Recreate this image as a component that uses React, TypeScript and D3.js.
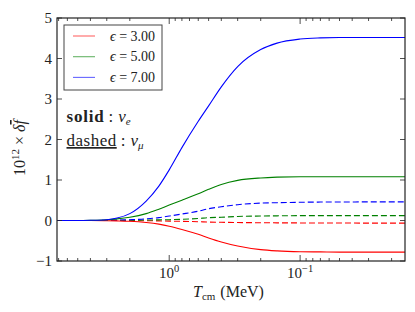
import React from "react";
import * as d3 from "d3";

// temperatures (MeV), read along the x axis from left (hot) to right (cold)
const temps = [7.2, 5, 4, 3, 2.5, 2, 1.5, 1.2, 1, 0.8, 0.6, 0.5, 0.4, 0.3, 0.2, 0.15, 0.1, 0.07, 0.05, 0.03, 0.0158];

// nu_e (solid)
const nueEps3 = [0, 0, 0, -0.005, -0.01, -0.02, -0.05, -0.09, -0.14, -0.22, -0.34, -0.43, -0.53, -0.63, -0.72, -0.75, -0.77, -0.775, -0.78, -0.78, -0.78];
const nueEps5 = [0, 0, 0.005, 0.02, 0.04, 0.08, 0.17, 0.28, 0.38, 0.5, 0.66, 0.77, 0.89, 0.99, 1.05, 1.07, 1.08, 1.08, 1.08, 1.08, 1.08];
const nueEps7 = [0, 0, 0.005, 0.02, 0.06, 0.17, 0.48, 0.85, 1.25, 1.8, 2.45, 2.83, 3.3, 3.8, 4.22, 4.38, 4.48, 4.51, 4.52, 4.52, 4.52];

// nu_mu (dashed)
const numuEps3 = [0, 0, 0, 0, 0, -0.003, -0.006, -0.01, -0.015, -0.02, -0.03, -0.04, -0.045, -0.05, -0.055, -0.058, -0.06, -0.062, -0.063, -0.064, -0.065];
const numuEps5 = [0, 0, 0, 0, 0.005, 0.008, 0.012, 0.016, 0.02, 0.03, 0.05, 0.07, 0.08, 0.1, 0.11, 0.115, 0.12, 0.12, 0.12, 0.12, 0.12];
const numuEps7 = [0, 0, 0, 0.005, 0.01, 0.02, 0.04, 0.07, 0.11, 0.16, 0.23, 0.29, 0.34, 0.39, 0.43, 0.44, 0.45, 0.455, 0.455, 0.46, 0.46];

const epsLabels = ["3.00", "5.00", "7.00"];
const colors = ["#ff0000", "#008000", "#0000ff"];
const yTicks = [-1, 0, 1, 2, 3, 4, 5];

const W = 415;
const H = 312;
const m = { left: 57, right: 405, top: 18, bottom: 261 };
const serif = "'Liberation Serif', 'DejaVu Serif', serif";

const App = () => {
  const x = d3.scaleLog().domain([7.2, 0.0158]).range([m.left, m.right]);
  const y = d3.scaleLinear().domain([-1, 5]).range([m.bottom, m.top]);

  const line = d3
    .line<number>()
    .x((_, i) => x(temps[i]))
    .y((d) => y(d))
    .curve(d3.curveMonotoneX);

  const solid = [nueEps3, nueEps5, nueEps7];
  const dashed = [numuEps3, numuEps5, numuEps7];

  const xTicks = x.ticks();
  const isMajor = (t: number) => Math.abs(Math.log10(t) - Math.round(Math.log10(t))) < 1e-6;

  return (
    <svg width={W} height={H} style={{ position: "absolute", left: 0, top: 0, background: "#fff" }} fontFamily={serif}>
      <defs>
        <clipPath id="plot">
          <rect x={m.left} y={m.top} width={m.right - m.left} height={m.bottom - m.top} />
        </clipPath>
      </defs>

      <g clipPath="url(#plot)" fill="none" strokeWidth={1.1}>
        {dashed.map((s, i) => (
          <path key={"d" + i} d={line(s) || ""} stroke={colors[i]} strokeDasharray="6,3" />
        ))}
        {solid.map((s, i) => (
          <path key={"s" + i} d={line(s) || ""} stroke={colors[i]} />
        ))}
      </g>

      {/* frame */}
      <rect x={m.left} y={m.top} width={m.right - m.left} height={m.bottom - m.top} fill="none" stroke="#222" strokeWidth={1.2} />

      {/* x ticks (in, both sides) */}
      {xTicks.map((t, i) => {
        const len = isMajor(t) ? 6 : 3;
        const px = x(t);
        return (
          <g key={"xt" + i} stroke="#222" strokeWidth={0.8}>
            <line x1={px} x2={px} y1={m.bottom} y2={m.bottom - len} />
            <line x1={px} x2={px} y1={m.top} y2={m.top + len} />
          </g>
        );
      })}
      {xTicks.filter(isMajor).map((t, i) => {
        const p = Math.round(Math.log10(t));
        return (
          <text key={"xl" + i} x={x(t)} y={277.5} textAnchor="middle" fontSize={15} fill="#222">
            10
            <tspan dy={-6} fontSize={10.5}>
              {p < 0 ? "\u2212" + Math.abs(p) : p}
            </tspan>
          </text>
        );
      })}

      {/* y ticks */}
      {yTicks.map((t) => (
        <g key={"yt" + t}>
          <line x1={m.left} x2={m.left + 5} y1={y(t)} y2={y(t)} stroke="#222" strokeWidth={0.8} />
          <line x1={m.right} x2={m.right - 5} y1={y(t)} y2={y(t)} stroke="#222" strokeWidth={0.8} />
          <text x={52} y={y(t)} dy="0.35em" textAnchor="end" fontSize={15} fill="#222">
            {t < 0 ? "\u2212" + Math.abs(t) : t}
          </text>
        </g>
      ))}

      {/* axis labels */}
      <text x={193} y={297} fontSize={16} fill="#222">
        <tspan fontStyle="italic">T</tspan>
        <tspan dy={3} fontSize={11}>cm</tspan>
        <tspan dy={-3} dx={5}>(MeV)</tspan>
      </text>
      <text transform="translate(25,148) rotate(-90)" textAnchor="middle" fontSize={16} fill="#222">
        10
        <tspan dy={-6} fontSize={11}>12</tspan>
        <tspan dy={6}> × </tspan>
        <tspan fontStyle="italic">δ</tspan>
        <tspan fontStyle="italic" textDecoration="overline">f</tspan>
      </text>

      {/* legend */}
      <rect x={64} y={25} width={98} height={65} fill="#fff" stroke="#444" strokeWidth={1} />
      {epsLabels.map((e, i) => {
        const cy = 36 + i * 20.7;
        return (
          <g key={"lg" + i}>
            <line x1={73} x2={95} y1={cy} y2={cy} stroke={colors[i]} strokeWidth={1.1} strokeOpacity={0.6} />
            <text x={110} y={cy + 4.5} fontSize={14} fill="#222">
              <tspan fontStyle="italic">ϵ</tspan> = {e}
            </text>
          </g>
        );
      })}

      {/* line-style notes */}
      <text x={66.5} y={122} fontSize={17} fill="#222">
        <tspan fontWeight="bold" letterSpacing={0.8}>solid</tspan>
        <tspan dx={4}>:</tspan>
        <tspan dx={5} fontStyle="italic">ν</tspan>
        <tspan dy={3} fontSize={11} fontStyle="italic">e</tspan>
      </text>
      <text x={66.5} y={146} fontSize={17} fill="#222">
        <tspan textDecoration="underline" letterSpacing={0.5}>dashed</tspan>
        <tspan dx={4}>:</tspan>
        <tspan dx={5} fontStyle="italic">ν</tspan>
        <tspan dy={3} fontSize={11} fontStyle="italic">μ</tspan>
      </text>
    </svg>
  );
};

export default App;
